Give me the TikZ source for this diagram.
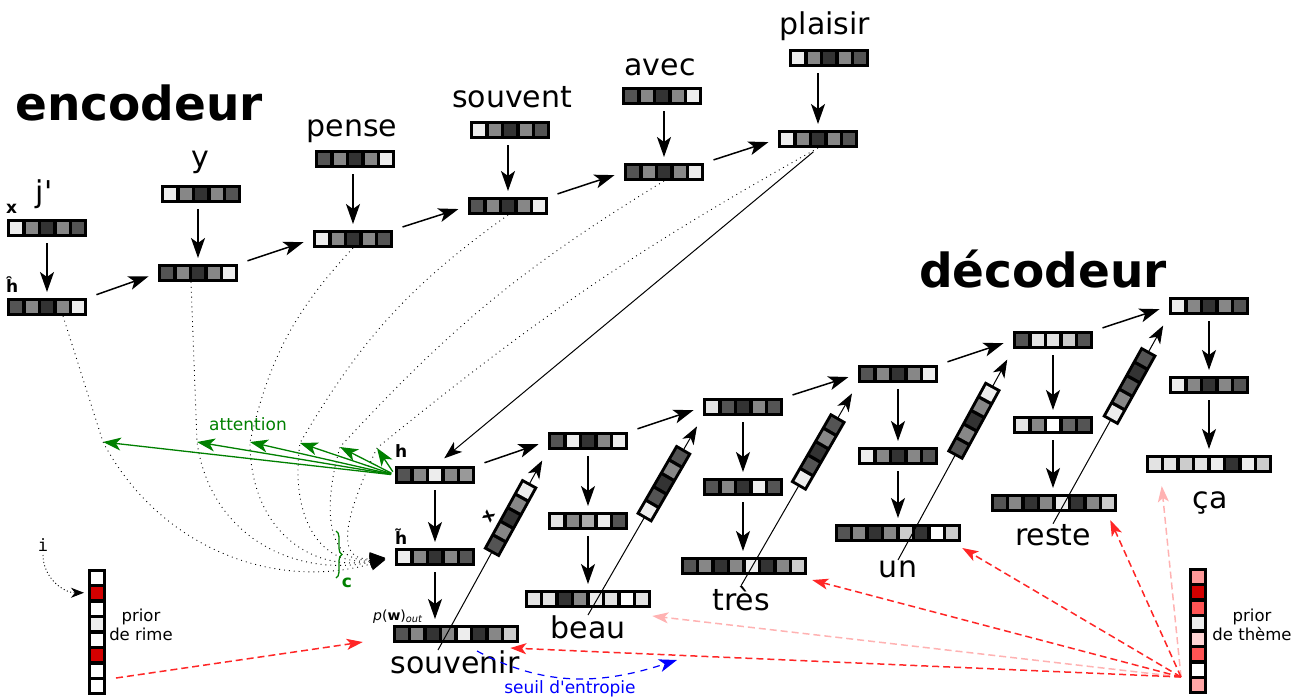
\documentclass[tikz,border=0pt]{standalone}
\usepackage{fontspec}
\setmainfont{DejaVu Sans}
\setmonofont{DejaVu Sans Mono}
\usetikzlibrary{arrows.meta,calc,decorations.pathreplacing}

% cell shades
\colorlet{cw}{black!7}
\colorlet{ce}{black!11}
\colorlet{cl}{black!20}
\colorlet{cm}{black!47}
\colorlet{cg}{black!67}
\colorlet{cd}{black!80}
\colorlet{rr}{red!83!black}

% one vector = a row of shaded cells
\newcommand{\cells}[1]{%
  \foreach \c [count=\i] in {#1}{\ifnum\i>1 \hspace{3.5pt}\fi\textcolor{\c}{\rule{12pt}{12pt}}}}

\begin{document}
\begin{tikzpicture}[x=1pt, y=-1pt,
  vecbox/.style={fill=black, inner sep=3pt, outer sep=0pt},
  word/.style={font=\fontsize{30}{36}\selectfont, inner sep=0pt, anchor=base},
  title/.style={font=\fontsize{47}{56}\selectfont\bfseries, inner sep=0pt, anchor=base},
  sym/.style={font=\fontsize{17}{20}\selectfont\bfseries, inner sep=0pt, anchor=south west},
  note/.style={font=\fontsize{16.5}{19}\selectfont, align=center, inner sep=0pt},
  flow/.style={line width=1.5pt, shorten <=6pt, shorten >=6pt, -{Stealth[length=20pt,width=14pt,inset=5pt]}},
  feed/.style={line width=1pt, shorten >=12pt, -{Stealth[length=18pt,width=13pt,inset=5pt]}},
  attn/.style={line width=0.9pt, dash pattern=on 0.9pt off 4pt, shorten >=10pt, -{Triangle[length=15pt,width=13pt]}},
  focus/.style={green!50!black, line width=1.3pt, shorten <=4pt, -{Stealth[length=18pt,width=13pt,inset=5pt]}},
  prior/.style={red!85, line width=1.5pt, dash pattern=on 7pt off 4pt, -{Stealth[length=16pt,width=11pt,inset=4pt]}},
  faded/.style={prior, red!30},
  thresh/.style={blue, line width=1.2pt, dash pattern=on 7pt off 6pt, -{Stealth[length=18pt,width=13pt,inset=5pt]}}]
\useasboundingbox (0,0) rectangle (1303,697);

% encodeur
\node[title] at (139,120) {encodeur};
\node[vecbox] (ex1) at (47,228) {\cells{cw,cm,cd,cm,cg}};
\node[vecbox] (eh1) at (47,307) {\cells{cg,cm,cd,cm,cw}};
\node[vecbox] (ex2) at (201,194) {\cells{cw,cm,cd,cm,cg}};
\node[vecbox] (eh2) at (198,273) {\cells{cg,cm,cd,cm,cw}};
\node[vecbox] (ex3) at (355,159) {\cells{cg,cm,cd,cm,cw}};
\node[vecbox] (eh3) at (353,239) {\cells{cw,cm,cd,cm,cg}};
\node[vecbox] (ex4) at (510,130) {\cells{cw,cm,cd,cm,cg}};
\node[vecbox] (eh4) at (508,206) {\cells{cg,cm,cd,cm,cw}};
\node[vecbox] (ex5) at (662,96) {\cells{cg,cm,cd,cm,cw}};
\node[vecbox] (eh5) at (664,172) {\cells{cg,cm,cd,cm,cw}};
\node[vecbox] (ex6) at (829,58) {\cells{cw,cm,cd,cm,cg}};
\node[vecbox] (eh6) at (818,139) {\cells{cw,cm,cd,cm,cg}};

\node[word] (in1) at (44,202) {j\textquotesingle};
\node[word] (in2) at (200,167) {y};
\node[word] (in3) at (352,136) {pense};
\node[word] (in4) at (512,107) {souvent};
\node[word] (in5) at (660,75) {avec};
\node[word] (in6) at (825,34) {plaisir};
\node[sym] at (6,214) {x};
\node[sym] at (6,293) {\^{h}};

\foreach \k in {1,...,6} \draw[flow] (eh\k |- ex\k.south) -- (eh\k.north);
\foreach \a/\b in {1/2,2/3,3/4,4/5,5/6}
  \draw[flow, shorten <=10pt, shorten >=10pt] (eh\a.north east) -- (eh\b.west);

% decodeur
\node[title] at (1043,287) {décodeur};
\node[vecbox] (s1) at (435,475) {\cells{cg,cm,cw,cm,black!40}};
\node[vecbox] (ht1) at (435,557) {\cells{cw,cm,cd,cm,cg}};
\node[vecbox] (p1) at (456,634) {\cells{cg,cm,cd,cm,cw,cd,cm,cl}};
\node[vecbox] (s2) at (588,441) {\cells{cg,cw,cd,cm,cw}};
\node[vecbox] (ht2) at (588,521) {\cells{ce,cm,black!33,cw,cg}};
\node[vecbox] (p2) at (588,599) {\cells{ce,ce,cd,cm,cw,ce,white,ce}};
\node[vecbox] (s3) at (743,407) {\cells{ce,cg,cd,cm,cg}};
\node[vecbox] (ht3) at (743,487) {\cells{cg,cm,cd,cw,cg}};
\node[vecbox] (p3) at (744,566) {\cells{cg,cm,cd,cm,cw,cd,cm,cl}};
\node[vecbox] (s4) at (898,374) {\cells{cg,cm,cd,cm,cw}};
\node[vecbox] (ht4) at (898,456) {\cells{cw,cm,cd,cm,cg}};
\node[vecbox] (p4) at (898,533) {\cells{cg,cm,cd,cm,cl,cd,white,cl}};
\node[vecbox] (s5) at (1053,340) {\cells{cg,ce,ce,cl,cg}};
\node[vecbox] (ht5) at (1053,425) {\cells{ce,cm,white,black!60,cg}};
\node[vecbox] (p5) at (1054,503) {\cells{cg,cm,cd,cm,cw,cd,cm,cl}};
\node[vecbox] (s6) at (1209,306) {\cells{cw,cm,cd,cm,cg}};
\node[vecbox] (ht6) at (1209,385) {\cells{cw,cm,cd,cm,cg}};
\node[vecbox] (p6) at (1209,464) {\cells{ce,ce,cl,ce,cw,cd,cw,cl}};

\node[word] (w1) at (455,673) {souvenir};
\node[word] (w2) at (588,638) {beau};
\node[word] (w3) at (741,610) {très};
\node[word] (w4) at (898,577) {un};
\node[word] (w5) at (1053,545) {reste};
\node[word] (w6) at (1210,508) {ça};
\node[sym] at (395,458) {h};
\node[sym] at (395,545) {\~{h}};
\node[font=\fontsize{14}{16}\selectfont, inner sep=0pt, anchor=base west] at (373,620)
  {\textit{p}(\textbf{w})\textsubscript{\textit{out}}};

\foreach \k in {1,...,6} {
  \draw[flow] (s\k.south) -- (ht\k.north);
  \draw[flow] (ht\k.south) -- (ht\k.south |- p\k.north);
}
\foreach \a/\b in {1/2,2/3,3/4,4/5,5/6}
  \draw[flow, shorten <=10pt, shorten >=10pt] (s\a.north east) -- (s\b.west);

% mots en entree
\draw[feed] ([xshift=-17pt]w1.north) -- node[vecbox, sloped, pos=0.66] (rx1) {\cells{cg,cm,cd,cm,cw}}
  node[pos=0.62, sloped, above=11pt, font=\fontsize{17}{20}\selectfont\bfseries] {x} (s2.south west);
\draw[feed] (w2.north) -- node[vecbox, sloped, pos=0.66] (rx2) {\cells{cw,cg,cd,cm,cg}} (s3.south west);
\draw[feed] (w3.north) -- node[vecbox, sloped, pos=0.66] (rx3) {\cells{cw,cg,cd,cm,cg}} (s4.south west);
\draw[feed] (w4.north) -- node[vecbox, sloped, pos=0.66] (rx4) {\cells{cg,cm,cd,cm,cw}} (s5.south west);
\draw[feed] (w5.north) -- node[vecbox, sloped, pos=0.66] (rx5) {\cells{cw,cm,cg,cd,cg}} (s6.south west);

\draw[feed, shorten <=6pt] (eh6.south) -- (s1.north);

% attention
\coordinate (att1) at (103,442);
\coordinate (att2) at (197,442);
\coordinate (att3) at (250,442);
\coordinate (att4) at (300,443);
\coordinate (att5) at (340,447);
\coordinate (att6) at (377,448);
\draw[attn] ([xshift=16pt]eh1.south) -- (att1) to[out=-62, in=196] (ht1.west);
\draw[attn] ([xshift=-7pt]eh2.south) -- (att2) to[out=-82, in=192, looseness=1.1] (ht1.west);
\draw[attn] (eh3.south) to[bend right=15] (att3) to[out=-90, in=190, looseness=1.2] (ht1.west);
\draw[attn] (eh4.south) to[bend right=12] (att4) to[out=-98, in=188, looseness=1.3] (ht1.west);
\draw[attn] (eh5.south) to[bend right=8] (att5) to[out=-106, in=186, looseness=1.4] (ht1.west);
\draw[attn] (eh6.south) to[bend right=5] (att6) to[out=-115, in=184, looseness=1.5] (ht1.west);

\foreach \k in {1,...,6} \draw[focus] (s1.west) -- (att\k);
\node[green!50!black, font=\fontsize{17}{20}\selectfont] at (248,424) {attention};
\draw[green!50!black, line width=1.3pt, decorate, decoration={brace, amplitude=6pt}] (336,531) -- (336,578);
\node[green!50!black, font=\fontsize{17}{20}\selectfont\bfseries] at (347,583) {c};

% priors
\node[font=\ttfamily\fontsize{17}{20}\selectfont] (idx) at (43,545) {i};
\node[vecbox, rotate=-90] (rime) at (97,632) {\cells{white,rr,white,cw,white,rr,white,white}};
\node[note] at (141,625) {prior\\de rime};
\draw[line width=0.9pt, dash pattern=on 1pt off 2.5pt, -{Stealth[length=13pt,width=10pt,inset=4pt]}]
  (idx.south) to[out=-90, in=180] ($(rime.south west)+(-4,24)$);
\draw[prior] ($(rime.north)+(10,46)$) -- ($(p1.west)+(-30,8)$);

\node[vecbox, rotate=-90] (theme) at (1198,631) {\cells{red!40,rr,red!67,cw,red!17,red!67,white,red!35}};
\node[note] at (1252,625) {prior\\de thème};
\coordinate (src) at (1181,677);
\draw[faded] (src) -- ($(p2.south east)+(1,8)$);
\draw[faded] (src) -- ($(p6.south west)+(16,13)$);
\draw[prior] (src) -- ($(p1.south east)+(-9,5)$);
\draw[prior] (src) -- ($(p3.south east)+(5,5)$);
\draw[prior] (src) -- ($(p4.south east)+(1,6)$);
\draw[prior] (src) -- ($(p5.south east)+(-7,8)$);

% seuil
\coordinate (seuil) at (677,660);
\draw[thresh] ($(p1.south)+(21,8)$) to[out=-28, in=198] (seuil);
\node[blue, font=\fontsize{17}{20}\selectfont, anchor=base] at (570,693) {seuil d\textquotesingle entropie};
\end{tikzpicture}
\end{document}
